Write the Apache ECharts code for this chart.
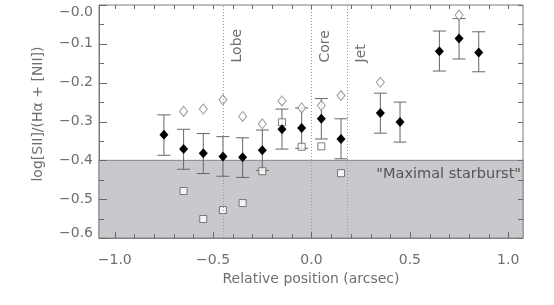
<!DOCTYPE html>
<html>
<head>
<meta charset="utf-8">
<script src="https://cdn.jsdelivr.net/npm/echarts@6/dist/echarts.min.js"></script>
<style>
html,body{margin:0;padding:0;background:#fff;}
#c{width:554px;height:305px;}
</style>
</head>
<body>
<div id="c"></div>
<script>
// ---- data ----
const positions = [-0.75,-0.65,-0.55,-0.45,-0.35,-0.25,-0.15,-0.05,0.05,0.15,0.35,0.45,0.65,0.75,0.85];
const filledVals = [-0.334,-0.371,-0.382,-0.390,-0.392,-0.374,-0.320,-0.317,-0.293,-0.345,-0.278,-0.301,-0.119,-0.086,-0.122];
const errLow  = [-0.387,-0.423,-0.434,-0.441,-0.444,-0.426,-0.371,-0.369,-0.345,-0.396,-0.330,-0.353,-0.170,-0.139,-0.172];
const errHigh = [-0.283,-0.320,-0.331,-0.339,-0.342,-0.322,-0.268,-0.265,-0.241,-0.293,-0.227,-0.250,-0.067,-0.035,-0.069];

const openDiamondX = [-0.65,-0.55,-0.45,-0.35,-0.25,-0.15,-0.05,0.05,0.15,0.35,0.75];
const openDiamondVals = [-0.274,-0.268,-0.244,-0.287,-0.306,-0.247,-0.265,-0.259,-0.233,-0.199,-0.026];

const squareX = [-0.65,-0.55,-0.45,-0.35,-0.25,-0.15,-0.05,0.05,0.15];
const squareVals = [-0.479,-0.551,-0.528,-0.510,-0.428,-0.302,-0.365,-0.364,-0.433];

const regionLines = [-0.45, 0.0, 0.18];
const regionNames = ['Lobe', 'Core', 'Jet'];
const regionLabelY = -0.148;

const starburstLimit = -0.4;
const starburstLabel = '"Maximal starburst"';

const xMin = -1.08, xMax = 1.075;
const yMin = -0.6, yMax = 0.0;
const xLabelTicks = [-1.0, -0.5, 0.0, 0.5, 1.0];
const xMinorTicks = [-0.9,-0.8,-0.7,-0.6,-0.4,-0.3,-0.2,-0.1,0.1,0.2,0.3,0.4,0.6,0.7,0.8,0.9];
const yLabelTicks = [-0.6, -0.5, -0.4, -0.3, -0.2, -0.1, 0.0];
const yMinorTicks = [-0.55, -0.45, -0.35, -0.25, -0.15, -0.05];

const xTitle = 'Relative position (arcsec)';
const yTitle = 'log[SII]/(H\u03b1 + [NII])';

// ---- chart ----
const FONT = 'DejaVu Sans';
const TXT = '#6f6f6f';
const AX = '#7a7a7a';
const TK = '#6a6a6a';

function xFmt(v) {
  const val = Math.round(v * 10) / 10;
  return (val < 0 ? '\u2212' : '') + Math.abs(val).toFixed(1);
}
function yFmt(v) {
  const val = Math.round(v * 10) / 10;
  const s = '\u2212' + Math.abs(val).toFixed(1);
  if (Math.abs(val - yMax) < 1e-6) return '{top|' + s + '}';
  if (Math.abs(val - yMin) < 1e-6) return '{bot|' + s + '}';
  return s;
}

const chart = echarts.init(document.getElementById('c'), null, {renderer: 'canvas'});
const labelStyle = {color: TXT, fontFamily: FONT, fontSize: 14};

const xTickVals = xLabelTicks.concat(xMinorTicks);
const xTickLens = xLabelTicks.map(() => 6).concat(xMinorTicks.map(() => 4));
const yTickVals = yLabelTicks.concat(yMinorTicks);
const yTickLens = yLabelTicks.map(() => 8).concat(yMinorTicks.map(() => 5));

const option = {
  animation: false,
  backgroundColor: '#fff',
  grid: {left: 99, right: 31, top: 5, bottom: 67, show: true, borderColor: AX, borderWidth: 1, backgroundColor: 'transparent'},
  xAxis: {
    type: 'value', min: xMin, max: xMax, position: 'bottom',
    axisLine: {show: true, onZero: false, lineStyle: {color: AX, width: 1}},
    axisTick: {show: false},
    splitLine: {show: false},
    axisLabel: Object.assign({show: true, margin: 15, formatter: xFmt, customValues: xLabelTicks}, labelStyle),
    name: xTitle, nameLocation: 'middle', nameGap: 34,
    nameTextStyle: {color: TXT, fontFamily: FONT, fontSize: 14}
  },
  yAxis: {
    type: 'value', min: yMin, max: yMax, position: 'left',
    axisLine: {show: true, onZero: false, lineStyle: {color: AX, width: 1}},
    axisTick: {show: false},
    splitLine: {show: false},
    axisLabel: Object.assign({
      show: true, margin: 6, formatter: yFmt, customValues: yLabelTicks,
      rich: {
        top: {color: TXT, fontFamily: FONT, fontSize: 14, padding: [15, 0, 0, 0]},
        bot: {color: TXT, fontFamily: FONT, fontSize: 14, padding: [0, 0, 9, 0]}
      }
    }, labelStyle),
    name: yTitle, nameLocation: 'middle', nameGap: 54,
    nameTextStyle: {color: TXT, fontFamily: FONT, fontSize: 14, padding: [0, 0, 0, 15]}
  },
  series: [
    {
      type: 'line', data: [], silent: true,
      markArea: {
        silent: true,
        itemStyle: {color: '#c9c8cc', borderColor: '#858585', borderWidth: 1},
        data: [[{yAxis: yMin}, {yAxis: starburstLimit}]]
      },
      markLine: {
        silent: true, symbol: 'none',
        label: {show: false},
        lineStyle: {color: '#9a9a9a', type: [1, 2], width: 1},
        data: regionLines.map(v => ({xAxis: v}))
      }
    },
    {
      type: 'custom', z: 3,
      data: positions.map((x, i) => [x, errLow[i], errHigh[i]]),
      renderItem: function (params, api) {
        const x = api.value(0);
        const pLo = api.coord([x, api.value(1)]);
        const pHi = api.coord([x, api.value(2)]);
        const w = 6.5;
        const st = {stroke: '#666666', lineWidth: 1};
        return {
          type: 'group',
          children: [
            {type: 'line', shape: {x1: pLo[0], y1: pLo[1], x2: pHi[0], y2: pHi[1]}, style: st},
            {type: 'line', shape: {x1: pLo[0] - w, y1: pLo[1], x2: pLo[0] + w, y2: pLo[1]}, style: st},
            {type: 'line', shape: {x1: pHi[0] - w, y1: pHi[1], x2: pHi[0] + w, y2: pHi[1]}, style: st}
          ]
        };
      }
    },
    {
      type: 'scatter', z: 4,
      symbol: 'rect', symbolSize: 7,
      itemStyle: {color: '#ffffff', borderColor: '#5e5e5e', borderWidth: 1},
      data: squareX.map((x, i) => [x, squareVals[i]])
    },
    {
      type: 'scatter', z: 4,
      symbol: 'diamond', symbolSize: [8, 10],
      itemStyle: {color: '#ffffff', borderColor: '#808080', borderWidth: 1},
      data: openDiamondX.map((x, i) => [x, openDiamondVals[i]])
    },
    {
      type: 'scatter', z: 5,
      symbol: 'diamond', symbolSize: [9, 10],
      itemStyle: {color: '#000000', opacity: 1},
      data: positions.map((x, i) => [x, filledVals[i]])
    }
  ]
};
chart.setOption(option);

// tick marks on all four sides, positioned through the chart's own scale conversion
const graphics = [];
const cornerTL = chart.convertToPixel({gridIndex: 0}, [xMin, yMax]);
const cornerBR = chart.convertToPixel({gridIndex: 0}, [xMax, yMin]);
const gLeft = cornerTL[0], gTop = cornerTL[1], gRight = cornerBR[0], gBottom = cornerBR[1];
const tickSt = {stroke: TK, lineWidth: 1};
xTickVals.forEach((v, i) => {
  const x = Math.round(chart.convertToPixel({xAxisIndex: 0}, v)) + 0.5;
  graphics.push({type: 'line', z: 20, silent: true, shape: {x1: x, y1: gBottom, x2: x, y2: gBottom - xTickLens[i]}, style: tickSt});
  graphics.push({type: 'line', z: 20, silent: true, shape: {x1: x, y1: gTop, x2: x, y2: gTop + 4}, style: tickSt});
});
yTickVals.forEach((v, i) => {
  const y = Math.round(chart.convertToPixel({yAxisIndex: 0}, v)) + 0.5;
  graphics.push({type: 'line', z: 20, silent: true, shape: {x1: gLeft, y1: y, x2: gLeft + yTickLens[i], y2: y}, style: tickSt});
  graphics.push({type: 'line', z: 20, silent: true, shape: {x1: gRight, y1: y, x2: gRight - 5, y2: y}, style: tickSt});
});

// text annotations
regionLines.forEach((v, i) => {
  const p = chart.convertToPixel({gridIndex: 0}, [v, regionLabelY]);
  graphics.push({
    type: 'text', x: p[0] + 14, y: p[1], rotation: Math.PI / 2, z: 10, silent: true,
    style: {text: regionNames[i], fill: TXT, font: '14px "' + FONT + '"', align: 'left', verticalAlign: 'middle'}
  });
});
const sp = chart.convertToPixel({gridIndex: 0}, [xMax, starburstLimit]);
graphics.push({
  type: 'text', x: sp[0] - 2, y: sp[1] + 14, z: 10, silent: true,
  style: {text: starburstLabel, fill: '#555', font: '14.5px "' + FONT + '"', align: 'right', verticalAlign: 'middle'}
});
chart.setOption({graphic: graphics});
</script>
</body>
</html>
